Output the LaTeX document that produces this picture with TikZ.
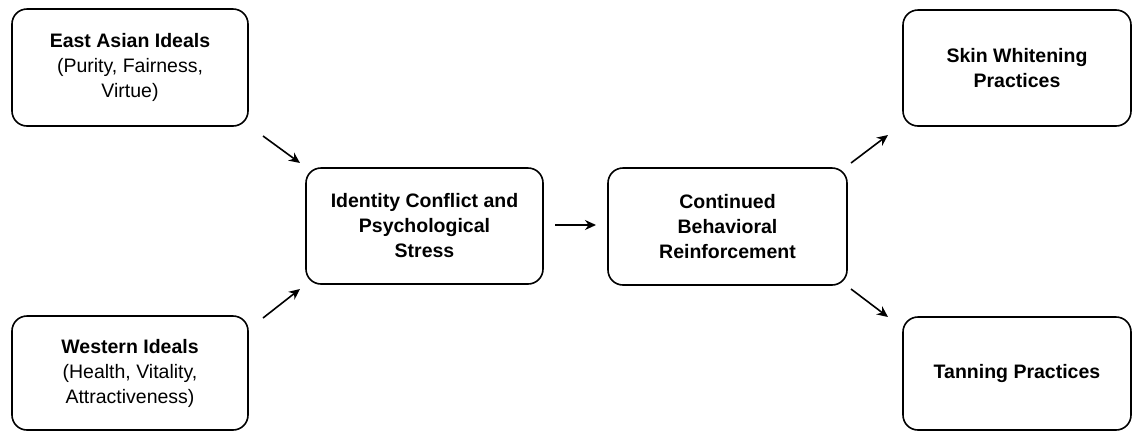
\documentclass[tikz,border=0pt]{standalone}
\usepackage{fontspec}
\setmainfont{Liberation Sans}
\usetikzlibrary{arrows.meta}
\begin{document}
\begin{tikzpicture}[x=1pt,y=-1pt,
  box/.style={draw=black, line width=1.6pt, rounded corners=15pt, align=center,
    inner sep=0pt, font=\fontsize{19.5}{25}\selectfont},
  arr/.style={line width=1.6pt, -{Stealth[length=11pt,width=10pt]}}]
\useasboundingbox (0,0) rectangle (1133,432);
\node[box, minimum width=236pt, minimum height=117pt] (east) at (130,67.5)
  {\textbf{East Asian Ideals}\\(Purity, Fairness,\\Virtue)};
\node[box, minimum width=236pt, minimum height=114pt] (west) at (130,373)
  {\textbf{Western Ideals}\\(Health, Vitality,\\Attractiveness)};
\node[box, minimum width=237pt, minimum height=116pt] (ident) at (424.5,226)
  {\textbf{Identity Conflict and}\\\textbf{Psychological}\\\textbf{Stress}};
\node[box, minimum width=239pt, minimum height=117pt] (cont) at (727.5,226.5)
  {\textbf{Continued}\\\textbf{Behavioral}\\\textbf{Reinforcement}};
\node[box, minimum width=228pt, minimum height=116pt] (skin) at (1017,68)
  {\textbf{Skin Whitening}\\\textbf{Practices}};
\node[box, minimum width=228pt, minimum height=113pt] (tan) at (1017,373.5)
  {\textbf{Tanning Practices}};
\coordinate (a1s) at (263,136); \coordinate (a1e) at (300,163);
\coordinate (a2s) at (263,318); \coordinate (a2e) at (300,289);
\coordinate (a3s) at (555,225); \coordinate (a3e) at (596,225);
\coordinate (a4s) at (851,163); \coordinate (a4e) at (888,135);
\coordinate (a5s) at (851,289); \coordinate (a5e) at (888,317);
\draw[arr] (a1s) -- (a1e);
\draw[arr] (a2s) -- (a2e);
\draw[arr] (a3s) -- (a3e);
\draw[arr] (a4s) -- (a4e);
\draw[arr] (a5s) -- (a5e);
\end{tikzpicture}
\end{document}
